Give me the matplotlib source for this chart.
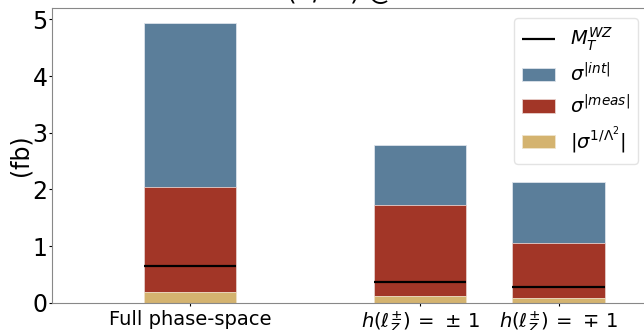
import matplotlib
matplotlib.use("Agg")
import matplotlib.pyplot as plt

# data
categories = ["Full phase-space", r"$h(\ell_Z^{\pm})\,=\,\pm\,1$", r"$h(\ell_Z^{\pm})\,=\,\mp\,1$"]
positions = [0.0, 1.0, 1.6]
sigma_int = [4.94, 2.78, 2.13]
sigma_meas = [2.05, 1.73, 1.06]
sigma_lambda = [0.19, 0.11, 0.09]
mt_wz = [0.65, 0.37, 0.27]

width = 0.4
c_int = "#5b7e9a"
c_meas = "#a23627"
c_lam = "#d4b36f"

fig = plt.figure(figsize=(6.44, 3.30), dpi=100)
ax = fig.add_axes([51.7 / 644, 1 - 302.7 / 330, 599 / 644, (302.7 - 8) / 330])

ax.bar(positions, sigma_int, width, color=c_int, edgecolor="#dde3ea", linewidth=0.6,
       label=r"$\sigma^{|int|}$")
ax.bar(positions, sigma_meas, width, color=c_meas, edgecolor="#e8d0cc", linewidth=0.6,
       label=r"$\sigma^{|meas|}$")
ax.bar(positions, sigma_lambda, width, color=c_lam, edgecolor="#f0e4cc", linewidth=0.6,
       label=r"$|\sigma^{1/\Lambda^2}|$")
ax.hlines(mt_wz, [p - width / 2 for p in positions], [p + width / 2 for p in positions],
          color="black", linewidth=1.6, label=r"$M_T^{WZ}$")

ax.set_xlim(-0.6, 2.0)
ax.set_ylim(0, 5.2)
ax.set_xticks(positions)
ax.set_xticklabels(categories, fontsize=14)
ax.set_yticks([0, 1, 2, 3, 4, 5])
ax.tick_params(axis="y", labelsize=17, length=2, pad=1)
ax.tick_params(axis="x", length=2, pad=3)
ax.set_ylabel("(fb)", fontsize=17, labelpad=0)
ax.set_title(r"$\mathcal{O}(1/\Lambda^2)$ @ LO", fontsize=18, pad=0)

for s in ax.spines.values():
    s.set_color("#888888")

leg = ax.legend(loc="upper right", bbox_to_anchor=(0.979, 0.966), borderaxespad=0,
                fontsize=14, handlelength=1.7, labelspacing=0.45, frameon=True)
leg.get_frame().set_edgecolor("#dddddd")

fig.savefig("out.png", dpi=100)
